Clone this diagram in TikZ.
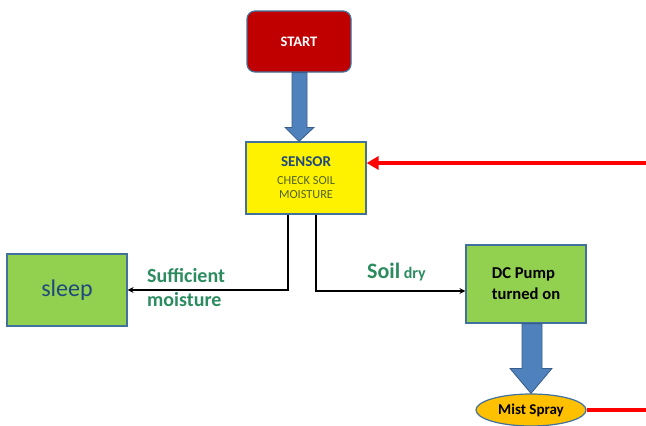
\documentclass[tikz,border=0pt]{standalone}
\usepackage{fontspec}
\setmainfont{Carlito}
\usetikzlibrary{arrows.meta,shapes.geometric,calc}
\definecolor{bordblue}{RGB}{65,113,156}
\definecolor{startred}{RGB}{192,0,0}
\definecolor{arrowblue}{RGB}{79,129,189}
\definecolor{arrowedge}{RGB}{56,93,138}
\definecolor{leafgreen}{RGB}{146,208,80}
\definecolor{mistorange}{RGB}{255,192,0}
\definecolor{darkblue}{RGB}{31,73,125}
\definecolor{olive}{RGB}{79,98,40}
\definecolor{labgreen}{RGB}{44,140,96}
\begin{document}
\begin{tikzpicture}[x=1pt,y=-1pt,
  box/.style={draw=bordblue,line width=1.2pt,minimum width=120pt,inner sep=0pt},
  blockarrow/.style={fill=arrowblue,draw=arrowedge,line width=0.8pt,line join=miter},
  conn/.style={line width=1.5pt,-{Stealth[length=6pt,width=6pt]}},
  redline/.style={red,line width=4pt},
  lab/.style={text=labgreen,font=\bfseries,inner sep=0pt}]
\useasboundingbox (0,0) rectangle (646,426);
\node[box,fill=startred,rounded corners=8pt,minimum width=104pt,minimum height=61pt,text=white,font=\bfseries\fontsize{14.5}{16}\selectfont] (start) at (299,41.5) {START};
\node[box,fill=yellow,minimum height=72pt,align=center,text=olive,font=\fontsize{12.3}{14.5}\selectfont] (sensor) at (306,178)
  {{\color{darkblue}\bfseries\fontsize{15}{17}\selectfont SENSOR}\\[3pt]
   CHECK SOIL\\
   MOISTURE};
\node[box,fill=leafgreen,minimum height=72pt,text=darkblue,font=\fontsize{24}{26}\selectfont] (sleep) at (67,290) {sleep};
\node[box,fill=leafgreen,minimum height=78pt,align=left,font=\bfseries\fontsize{16.6}{21}\selectfont] (pump) at (526,284) {DC Pump\\turned on};
\node[ellipse,draw=bordblue,line width=1.2pt,fill=mistorange,minimum width=110pt,minimum height=32pt,inner sep=0pt,font=\bfseries\fontsize{15}{17}\selectfont] (mist) at (531,410) {Mist Spray};
% block arrows
\coordinate (tip1) at (start.south |- sensor.north);
\path[blockarrow] ($(start.south)+(-7,0)$) -- ($(tip1)+(-7,-14)$) -- ($(tip1)+(-14,-14)$) -- (tip1) -- ($(tip1)+(15,-14)$) -- ($(tip1)+(8,-14)$) -- ($(start.south)+(8,0)$) -- cycle;
\path[blockarrow] ($(pump.south)+(-4,0)$) -- ($(mist.north)+(-9,-25)$) -- ($(mist.north)+(-21,-25)$) -- (mist.north) -- ($(mist.north)+(21,-25)$) -- ($(mist.north)+(11,-25)$) -- ($(pump.south)+(16,0)$) -- cycle;
% black connectors
\draw[conn] ([xshift=-18pt]sensor.south) |- (sleep.east);
\draw[conn] ([xshift=10pt]sensor.south) |- ([yshift=-7pt]pump.west);
% red feedback
\coordinate (redin) at (646,163);
\coordinate (redout) at (646,410);
\draw[redline,-{Triangle[length=12pt,width=13pt]}] (redin) -- (redin -| sensor.east);
\draw[redline] (mist.east) -- (redout);
% labels
\node[lab,align=left,font=\bfseries\fontsize{20}{24}\selectfont,anchor=west] (suff) at (147,288) {Sufficient\\moisture};
\node[lab,anchor=base west] (soil) at (367,278) {\fontsize{22}{24}\selectfont Soil\,{\fontsize{16}{18}\selectfont dry}};
\end{tikzpicture}
\end{document}
